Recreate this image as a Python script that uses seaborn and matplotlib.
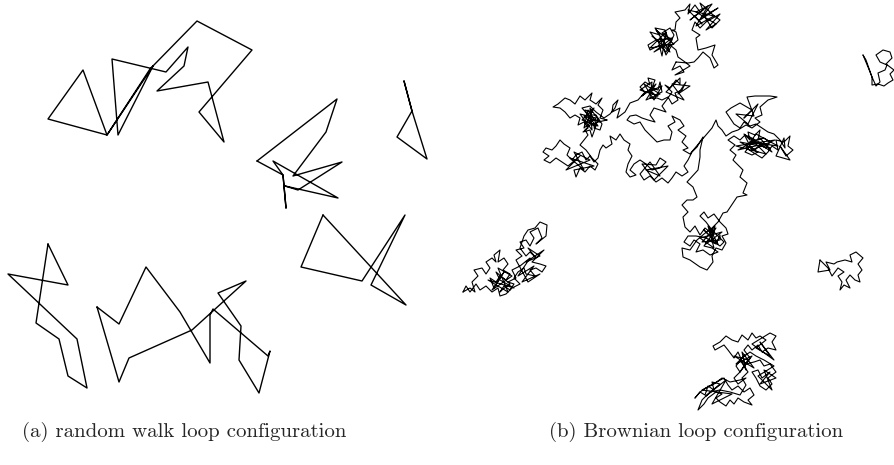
import numpy as np
import pandas as pd
import matplotlib
matplotlib.use("Agg")
import matplotlib.pyplot as plt
import seaborn as sns

# random walk loops (left panel), vertices in pixels
walk_a = [(153, 66), (118, 135), (112, 59), (166, 72), (188, 47), (184, 66), (157, 91),
          (208, 82), (224, 142), (199, 112), (252, 50), (197, 21), (150, 69), (107, 135),
          (48, 119), (83, 70), (107, 135), (153, 66)]
walk_b = [(257, 161), (337, 99), (326, 132), (293, 176), (342, 162), (298, 190), (285, 186),
          (338, 198), (273, 161), (283, 175), (286, 208), (283, 175), (257, 161)]
walk_c = [(404, 81), (412, 111), (427, 159), (397, 137), (412, 111), (404, 81)]
walk_d = [(323, 215), (406, 305), (371, 285), (405, 215), (362, 281), (301, 267), (323, 215)]
walk_e = [(48, 244), (68, 285), (8, 274), (77, 339), (87, 388), (68, 376), (59, 339),
          (36, 323), (48, 244)]
walk_f = [(97, 307), (119, 324), (146, 267), (180, 312), (210, 363), (210, 315), (213, 309),
          (268, 356), (270, 351), (259, 393), (239, 360), (241, 326), (218, 293), (246, 281),
          (192, 330), (129, 358), (119, 382), (97, 307)]

# brownian loops (right panel)
bm_top = [(676, 62), (672, 70), (680, 66), (684, 72), (675, 75), (690, 66), (685, 62), (678, 57),
          (676, 50), (670, 45), (666, 52), (660, 45), (650, 50), (648, 45), (656, 40), (650, 32),
          (660, 35), (655, 28), (665, 30), (668, 38), (660, 42),
          (652, 36), (670, 52), (656, 30), (674, 44), (650, 48), (666, 32), (662, 56), (658, 40),
          (672, 38), (654, 52), (668, 44),
          (672, 40), (662, 33), (670, 28),
          (674, 35), (668, 48), (660, 38), (666, 55), (672, 45), (678, 40), (676, 32), (672, 30),
          (675, 30), (676, 22), (680, 18), (675, 12), (685, 10), (690, 4), (688, 14), (695, 5),
          (700, 12), (690, 20), (708, 6), (696, 26), (714, 16), (688, 10), (702, 24),
          (695, 16), (703, 10), (700, 3), (706, 8), (712, 14), (720, 20), (712, 28),
          (704, 16), (718, 8), (700, 20), (712, 4), (696, 12), (716, 24), (706, 30), (720, 14),
          (706, 22), (700, 28), (695, 22), (692, 30), (700, 35), (696, 38), (698, 50), (706, 48),
          (715, 45), (712, 55), (718, 65), (714, 68), (710, 58), (703, 52), (698, 58), (694, 62),
          (688, 63), (676, 62)]
bm_big = [(607, 120), (600, 118), (603, 110), (598, 105), (602, 98), (596, 104), (590, 100),
          (592, 93), (585, 100), (580, 96), (575, 104), (570, 100), (565, 98), (558, 104),
          (553, 107), (560, 108), (565, 112), (570, 118), (575, 115), (580, 118), (578, 125),
          (584, 122), (588, 128), (583, 132), (590, 130), (592, 137), (596, 126), (590, 118),
          (585, 110), (592, 112),
          (586, 124), (594, 108), (582, 120), (598, 126), (588, 110), (584, 128), (596, 118),
          (580, 114), (592, 130), (590, 108), (600, 122), (584, 116), (594, 126), (588, 120),
          (598, 120), (594, 128), (600, 130), (602, 124), (596, 115),
          (588, 115), (582, 108), (590, 106), (596, 112), (604, 118), (610, 114), (615, 108),
          (618, 100), (613, 105), (612, 112), (620, 108), (617, 118), (625, 112), (630, 103),
          (638, 100), (645, 92), (640, 87), (645, 82), (650, 85), (648, 78), (655, 80), (652, 88),
          (658, 90), (660, 82), (662, 92), (655, 95), (650, 90),
          (642, 96), (656, 84), (646, 100), (660, 94), (644, 84), (654, 100), (662, 86),
          (648, 92), (658, 96), (640, 90), (652, 82), (650, 98),
          (657, 98), (662, 100), (668, 97),
          (672, 104), (678, 100), (675, 93), (682, 90), (686, 82),
          (678, 94), (690, 86), (672, 84), (684, 100), (666, 92), (680, 78),
          (680, 84), (676, 80), (670, 88),
          (665, 85), (672, 92), (668, 98), (662, 106), (666, 112), (660, 110), (654, 108),
          (650, 115), (655, 122), (648, 120), (642, 118), (636, 115), (630, 116), (627, 120),
          (634, 124), (640, 122), (645, 130), (650, 135), (657, 142), (664, 140), (670, 140),
          (672, 132), (668, 126), (675, 122), (672, 116), (680, 120), (684, 126), (678, 130),
          (686, 136), (682, 142), (688, 148), (683, 150), (690, 154), (695, 148), (700, 142),
          (703, 137), (700, 150), (700, 157), (698, 170), (687, 182), (693, 187), (697, 197),
          (693, 200), (687, 200), (682, 205), (688, 212), (683, 217), (685, 227), (690, 232),
          (695, 226), (700, 235), (705, 228), (710, 232), (715, 226), (712, 238),
          (704, 230), (718, 244), (708, 226), (714, 248), (700, 238), (722, 232), (706, 244),
          (716, 228), (702, 242), (720, 240),
          (720, 235), (716, 244), (708, 240), (704, 246), (712, 248), (718, 252), (710, 255),
          (703, 250), (696, 252), (700, 244), (694, 240), (690, 246), (684, 242), (688, 236),
          (696, 236), (706, 238), (714, 242), (720, 246), (724, 242), (718, 236), (712, 230),
          (706, 222), (700, 216), (704, 212), (708, 218), (714, 214), (720, 222), (726, 228),
          (728, 234), (722, 236), (726, 243), (722, 250), (716, 248), (712, 256), (713, 262),
          (707, 270), (700, 267), (690, 260), (683, 257), (682, 248), (690, 250), (697, 240),
          (704, 234), (712, 228), (718, 222), (723, 213), (727, 212), (733, 203), (737, 197),
          (747, 195), (743, 193), (747, 183), (740, 177), (743, 170), (733, 160), (736, 155),
          (730, 150), (735, 145), (728, 140), (734, 136), (740, 140), (745, 135), (750, 140),
          (748, 132), (755, 135), (760, 130), (758, 140), (764, 138), (770, 142), (766, 148),
          (760, 145), (755, 150), (750, 146), (745, 152), (752, 155), (758, 152),
          (740, 142), (770, 148), (748, 136), (766, 154), (736, 146), (775, 140), (752, 150),
          (744, 134), (772, 152), (760, 138), (738, 150), (764, 144), (750, 142), (778, 146),
          (756, 134), (746, 148),
          (762, 158), (768, 152), (772, 146), (778, 150), (776, 140), (784, 142), (790, 136),
          (788, 146), (793, 150),
          (786, 156), (780, 146), (790, 160), (776, 156), (784, 138),
          (785, 148), (780, 140), (774, 134), (768, 132), (762, 128),
          (756, 124), (750, 126), (744, 122), (740, 128), (734, 124), (730, 118), (726, 112),
          (731, 108), (740, 103),
          (752, 110), (744, 118), (758, 104), (748, 124), (736, 114), (754, 116),
          (747, 97), (755, 96), (770, 96), (777, 97), (768, 100),
          (760, 107), (762, 115), (755, 118), (760, 122), (752, 128), (746, 125), (738, 130),
          (732, 132), (726, 136), (722, 130), (718, 126), (716, 120), (712, 128), (706, 135),
          (700, 142), (697, 147), (692, 152), (688, 160), (684, 166), (688, 172), (682, 176),
          (676, 172), (672, 178), (668, 183), (662, 178), (656, 182), (650, 176), (644, 180),
          (640, 174), (645, 168), (650, 162),
          (660, 176), (646, 170), (668, 166), (654, 180), (642, 164),
          (656, 165), (660, 158), (666, 162), (660, 168), (652, 170), (646, 164),
          (640, 160), (634, 164), (630, 170), (636, 175), (630, 177), (626, 172), (628, 164),
          (632, 156), (628, 150), (630, 144), (624, 140), (620, 134), (616, 140), (610, 136),
          (612, 144), (606, 148), (603, 145), (600, 150), (598, 158), (594, 162), (590, 156),
          (586, 160), (582, 152), (576, 155), (572, 160), (567, 155), (570, 148), (564, 144),
          (560, 140), (556, 146), (552, 150), (546, 148), (543, 152), (549, 156), (544, 160),
          (550, 163), (556, 158), (562, 162), (568, 166),
          (580, 156), (566, 170), (590, 160), (574, 152), (584, 170), (570, 158), (594, 166),
          (574, 170), (576, 177), (580, 168),
          (585, 172), (590, 166), (595, 170), (598, 164), (592, 158), (586, 150), (580, 145),
          (584, 140), (588, 135), (585, 130), (590, 125), (598, 122), (607, 120)]
bm_left = [(463, 292), (470, 288), (475, 292), (472, 282), (478, 276), (474, 270), (482, 268),
           (486, 274), (490, 268), (486, 262), (492, 258), (496, 262), (494, 255), (500, 250),
           (498, 262), (504, 258), (508, 264), (503, 270), (510, 274), (506, 280), (500, 276),
           (496, 282), (490, 278), (494, 288),
           (504, 272), (492, 290), (512, 276), (498, 268), (508, 292), (488, 280), (514, 288),
           (500, 280), (496, 272), (510, 284), (502, 290),
           (500, 292), (504, 286), (510, 290), (514, 284),
           (508, 282), (516, 278), (512, 270), (520, 266),
           (530, 258), (518, 276), (534, 266), (522, 282), (540, 274), (528, 282),
           (516, 260), (522, 256), (516, 250),
           (524, 248), (520, 242), (526, 240), (530, 246), (534, 238), (530, 232), (538, 228),
           (542, 238), (536, 244), (546, 236), (547, 225), (540, 222), (535, 228), (528, 230),
           (524, 236), (520, 248), (526, 256), (530, 252), (536, 258),
           (528, 248), (540, 256), (526, 262), (544, 250),
           (532, 262), (540, 264),
           (546, 266), (542, 272), (536, 268), (530, 270), (535, 276), (526, 274), (524, 268),
           (518, 272), (514, 278), (520, 284), (512, 288), (506, 294), (500, 296), (498, 288),
           (492, 292), (486, 286), (480, 290), (476, 284), (470, 292), (466, 286), (463, 292)]
bm_corner = [(863, 55), (868, 67), (872, 77), (876, 86), (880, 82), (878, 73), (885, 70),
             (887, 65), (880, 62), (876, 55), (883, 50), (890, 52), (892, 58), (886, 64),
             (894, 70), (890, 74), (893, 80), (888, 83), (884, 86), (878, 84), (872, 85),
             (872, 77), (866, 60), (863, 55)]
bm_right = [(820, 260), (818, 272), (830, 270), (826, 262), (834, 264), (837, 262), (845, 260),
            (852, 262), (850, 255), (856, 252), (863, 258), (858, 264), (862, 270), (858, 275),
            (860, 282), (855, 280), (850, 275), (846, 280), (850, 288), (844, 285), (840, 290),
            (842, 282), (838, 276), (844, 272), (838, 268), (832, 276), (828, 268), (820, 260)]
bm_bottom = [(695, 398), (700, 392), (705, 395), (708, 386), (714, 390), (712, 382), (720, 384),
             (706, 396), (726, 380), (712, 404), (732, 394), (702, 390),
             (724, 378), (728, 385), (732, 390), (738, 386), (744, 392), (750, 388), (754, 395),
             (748, 400), (752, 405), (744, 402), (738, 398), (734, 404), (730, 400), (726, 406),
             (720, 402), (716, 398), (722, 394), (716, 392), (708, 398), (704, 404), (698, 410),
             (702, 400), (710, 392), (720, 390), (730, 392), (740, 395), (746, 385), (742, 378),
             (748, 372), (744, 366), (740, 360), (745, 355),
             (736, 364), (752, 356), (740, 372), (748, 360), (734, 356), (754, 368), (742, 352),
             (746, 370),
             (738, 352), (734, 358), (728, 350),
             (724, 345), (715, 350), (713, 346), (720, 342), (726, 336), (732, 340), (738, 342),
             (742, 335), (748, 340), (752, 333), (756, 338), (760, 336), (766, 340),
             (756, 348), (770, 356), (760, 342), (774, 360), (752, 344),
             (770, 333),
             (776, 336), (772, 342), (776, 350), (768, 348), (762, 352), (758, 345), (752, 350),
             (748, 345), (744, 350), (750, 358), (746, 364), (754, 362), (760, 360), (764, 366),
             (770, 364), (776, 372), (768, 378), (772, 384), (766, 390), (760, 386), (756, 378),
             (752, 372), (758, 370), (762, 378), (770, 372),
             (760, 384), (776, 378), (764, 370), (772, 390), (758, 376), (774, 366),
             (764, 360), (756, 356), (750, 352),
             (742, 358), (736, 366), (740, 372), (734, 378), (738, 384), (746, 378), (740, 380),
             (730, 382), (722, 378), (714, 384), (706, 388), (700, 392), (695, 398)]

captions = ["(a) random walk loop configuration", "(b) Brownian loop configuration"]


def to_frame(loops):
    rows = []
    for name, pts in loops.items():
        for i, (x, y) in enumerate(pts):
            rows.append({"loop": name, "step": i, "x": x, "y": y})
    return pd.DataFrame(rows)


walks = to_frame({"a": walk_a, "b": walk_b, "c": walk_c, "d": walk_d, "e": walk_e, "f": walk_f})
brown = to_frame({"top": bm_top, "big": bm_big, "left": bm_left, "corner": bm_corner,
                  "right": bm_right, "bottom": bm_bottom})

sns.set_style("white")
fig = plt.figure(figsize=(8.94, 4.65), dpi=100)
ax = fig.add_axes([0, 0, 1, 1])

sns.lineplot(data=walks, x="x", y="y", units="loop", estimator=None, sort=False,
             color="black", lw=1.0, ax=ax)
sns.lineplot(data=brown, x="x", y="y", units="loop", estimator=None, sort=False,
             color="black", lw=0.8, ax=ax)

ax.set_xlim(0, 894)
ax.set_ylim(465, 0)
ax.axis("off")

# subcaptions, anchored at their outer edges
fig.text(22 / 894, 1 - 432 / 465, captions[0], family="cmr10", fontsize=15,
         ha="left", va="center")
fig.text(843 / 894, 1 - 432 / 465, captions[1], family="cmr10", fontsize=15,
         ha="right", va="center")

fig.savefig("out.png", dpi=100, facecolor="white")
